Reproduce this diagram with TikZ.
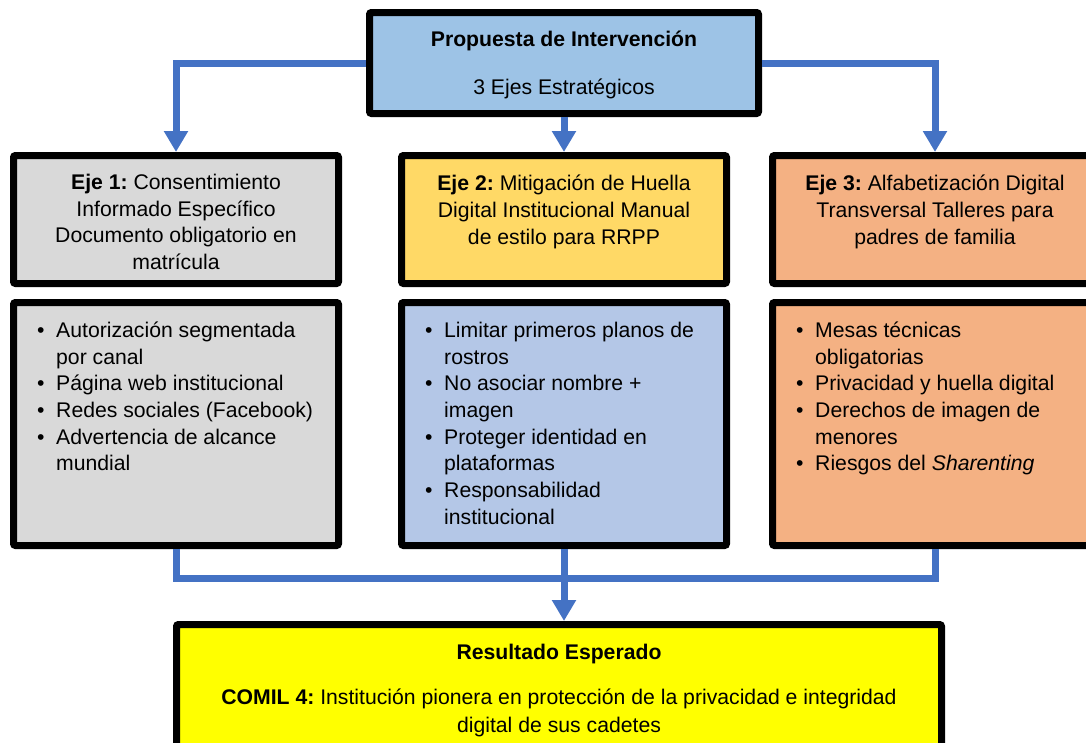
\documentclass[tikz,border=0pt]{standalone}
\usepackage{fontspec}
\setmainfont{Liberation Sans}
\usetikzlibrary{arrows.meta,positioning}
\frenchspacing

\definecolor{azulflecha}{HTML}{4472C4}
\definecolor{azulcab}{HTML}{9DC3E6}
\definecolor{grisclaro}{HTML}{D9D9D9}
\definecolor{amarillo}{HTML}{FFD966}
\definecolor{naranja}{HTML}{F4B183}
\definecolor{azulclaro}{HTML}{B4C7E7}
\definecolor{amarillofuerte}{HTML}{FFFF00}

\begin{document}
\begin{tikzpicture}[x=1pt,y=-1pt,
    caja/.style={draw=black,line width=7pt,rounded corners=2pt,inner sep=0pt},
    texto/.style={inner sep=0pt,font=\fontsize{21.2}{26.7}\selectfont},
    lista/.style={texto,anchor=north west},
    conector/.style={draw=azulflecha,line width=7pt},
    flecha/.style={conector,-{Triangle[width=23pt,length=21pt]}}]
                \useasboundingbox (0,0) rectangle (1086,742);
                \clip (0,0) rectangle (1086,742);

                % cabecera
                \node[caja,fill=azulcab,minimum width=389pt,minimum height=101pt] (prop) at (564,63) {};
                \node[texto,align=center] (tprop) at ([yshift=-2pt]prop.center)
                    {\textbf{Propuesta de Intervención}\\[21.3pt]3 Ejes Estratégicos};

                % ejes
                \node[caja,fill=grisclaro,minimum width=325pt,minimum height=128pt] (eje1) at (176,219.5) {};
                \node[caja,fill=amarillo,minimum width=325pt,minimum height=128pt] (eje2) at (564,219.5) {};
                \node[caja,fill=naranja,minimum width=325pt,minimum height=128pt] (eje3) at (935,219.5) {};
                \node[texto,align=center,below=22pt of eje1.north] (t1)
                    {\textbf{Eje 1:} Consentimiento\\Informado Específico\\Documento obligatorio en\\matrícula};
                \node[texto,align=center,below=23pt of eje2.north] (t2)
                    {\textbf{Eje 2:} Mitigación de Huella\\Digital Institucional Manual\\de estilo para RRPP};
                \node[texto,align=center,below=23pt of eje3.north] (t3)
                    {\textbf{Eje 3:} Alfabetización Digital\\Transversal Talleres para\\padres de familia};

                % detalles
                \node[caja,fill=grisclaro,minimum width=325pt,minimum height=243pt] (det1) at (176,424) {};
                \node[caja,fill=azulclaro,minimum width=325pt,minimum height=243pt] (det2) at (564,424) {};
                \node[caja,fill=naranja,minimum width=325pt,minimum height=243pt] (det3) at (935,424) {};
                \node[lista,below right=19.5pt and 27pt of det1.north west] (l1) {\begin{tabular}{@{}p{19pt}@{}l@{}}
                    • & Autorización segmentada\\ & por canal\\
                    • & Página web institucional\\
                    • & Redes sociales (Facebook)\\
                    • & Advertencia de alcance\\ & mundial\end{tabular}};
                \node[lista,below right=19.5pt and 27pt of det2.north west] (l2) {\begin{tabular}{@{}p{19pt}@{}l@{}}
                    • & Limitar primeros planos de\\ & rostros\\
                    • & No asociar nombre +\\ & imagen\\
                    • & Proteger identidad en\\ & plataformas\\
                    • & Responsabilidad\\ & institucional\end{tabular}};
                \node[lista,below right=19.5pt and 27pt of det3.north west] (l3) {\begin{tabular}{@{}p{19pt}@{}l@{}}
                    • & Mesas técnicas\\ & obligatorias\\
                    • & Privacidad y huella digital\\
                    • & Derechos de imagen de\\ & menores\\
                    • & Riesgos del \textit{Sharenting}\end{tabular}};

                % resultado
                \node[caja,fill=amarillofuerte,minimum width=765pt,minimum height=152pt] (res) at (559,700.5) {};
                \node[texto,align=center,below=23pt of res.north] (tres)
                    {\textbf{Resultado Esperado}\\[18.3pt]\textbf{COMIL 4:} Institución pionera en protección de la privacidad e integridad\\[1.5pt]digital de sus cadetes};

                % flechas
                \draw[flecha] (prop.west) -| (eje1.north);
                \draw[flecha] (prop.south) -- (eje2.north);
                \draw[flecha] (prop.east) -| (eje3.north);
                \coordinate (junta) at (564,578);
                \draw[conector] (det1.south) |- (junta) -| (det3.south);
                \draw[flecha] (det2.south) -- (det2.south |- res.north);
            \end{tikzpicture}
\end{document}
